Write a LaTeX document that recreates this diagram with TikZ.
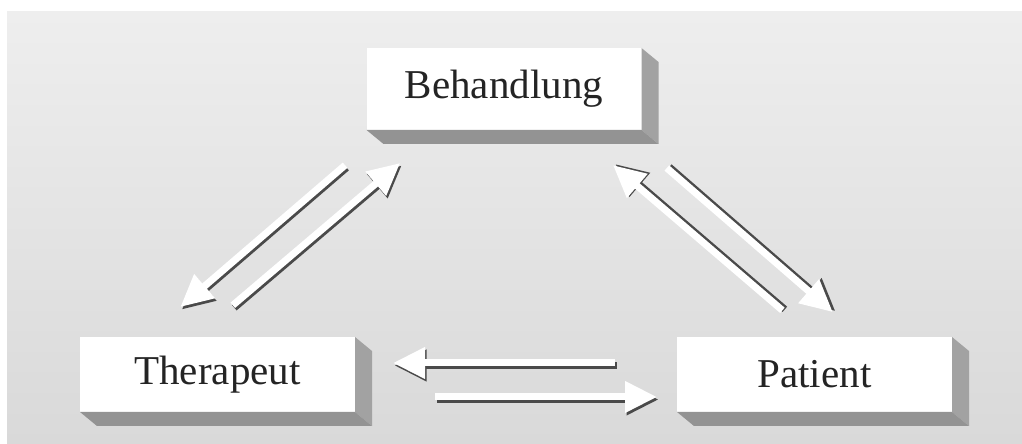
\documentclass[tikz,border=0pt]{standalone}
\usepackage{fontspec}
\setmainfont{Liberation Serif}
\usetikzlibrary{arrows.meta,positioning}
\definecolor{panelTop}{HTML}{EEEEEE}
\definecolor{panelBottom}{HTML}{D9D9D9}
\definecolor{sideGray}{HTML}{A2A2A2}
\definecolor{baseGray}{HTML}{939393}
\definecolor{lineGray}{HTML}{4A4A4A}
\definecolor{labelGray}{HTML}{242424}
\tikzset{
  box/.style={fill=white, minimum width=275pt, minimum height=75pt, inner sep=0pt, outer sep=0pt,
    text=labelGray, font=\fontsize{41}{48}\selectfont},
  sideface/.style={fill=sideGray},
  baseface/.style={fill=baseGray},
  flow/.style={draw=white, line width=7pt, -{Triangle[length=32pt,width=30pt]}},
  flowshadow/.style={flow, draw=lineGray, transform canvas={shift={#1}}}
}

\begin{document}
\begin{tikzpicture}[x=1pt,y=1pt]
            \useasboundingbox (0,0) rectangle (1022,444);
            % Hintergrund
            \shade[top color=panelTop, bottom color=panelBottom] (7,0) rectangle (1022,432);

            % Kaesten
            \node[box, minimum height=82pt] (beh) at (504,355) {Behandlung};
            \node[box] (ther) at (217.5,69.5) {Therapeut};
            \node[box, right = 322pt of ther] (pat) {Patient};
            \foreach \n in {beh,ther,pat} {
                \fill[sideface] (\n.north east) -- ++(17,-14) -- ([shift={(17,-14)}]\n.south east) -- (\n.south east) -- cycle;
                \fill[baseface] (\n.south west) -- ++(17,-14) -- ([shift={(17,-14)}]\n.south east) -- (\n.south east) -- cycle;
            }

            % Pfeile: erst Schatten, dann weiss
            \draw[flowshadow={(1.5pt,-2.5pt)}, shorten <=54pt, shorten >=46pt] ([xshift=-118pt]beh.south) -- ([xshift=-72pt]ther.north);
            \draw[flow, shorten <=54pt, shorten >=46pt] ([xshift=-118pt]beh.south) -- ([xshift=-72pt]ther.north);
            \draw[flowshadow={(1.5pt,-2.5pt)}, shorten <=49pt, shorten >=51pt] ([xshift=-22pt]ther.north) -- ([xshift=-65pt]beh.south);
            \draw[flow, shorten <=49pt, shorten >=51pt] ([xshift=-22pt]ther.north) -- ([xshift=-65pt]beh.south);

            \draw[flowshadow={(2.5pt,1pt)}, shorten <=41pt, shorten >=54pt] ([xshift=-1pt]pat.north) -- ([xshift=68pt]beh.south);
            \draw[flow, shorten <=41pt, shorten >=54pt] ([xshift=-1pt]pat.north) -- ([xshift=68pt]beh.south);
            \draw[flowshadow={(2.5pt,1pt)}, shorten <=58pt, shorten >=38pt] ([xshift=119pt]beh.south) -- ([xshift=47pt]pat.north);
            \draw[flow, shorten <=58pt, shorten >=38pt] ([xshift=119pt]beh.south) -- ([xshift=47pt]pat.north);

            \draw[flowshadow={(1.5pt,-2.5pt)}, shorten <=62pt, shorten >=38pt] ([yshift=11.5pt]pat.west) -- ([yshift=11.5pt]ther.east);
            \draw[flow, shorten <=62pt, shorten >=38pt] ([yshift=11.5pt]pat.west) -- ([yshift=11.5pt]ther.east);
            \draw[flowshadow={(1.5pt,-2.5pt)}, shorten <=80pt, shorten >=20pt] ([yshift=-22.5pt]ther.east) -- ([yshift=-22.5pt]pat.west);
            \draw[flow, shorten <=80pt, shorten >=20pt] ([yshift=-22.5pt]ther.east) -- ([yshift=-22.5pt]pat.west);
\end{tikzpicture}
\end{document}
